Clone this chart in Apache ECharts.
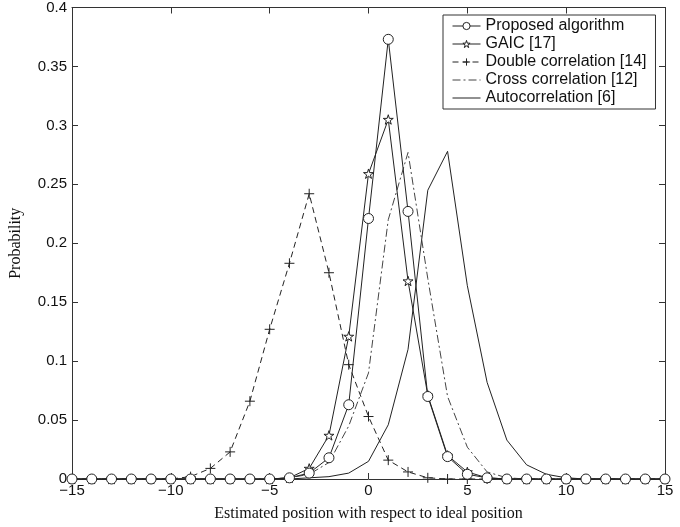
<!DOCTYPE html>
<html>
<head>
<meta charset="utf-8">
<script src="https://cdn.jsdelivr.net/npm/echarts@6/dist/echarts.min.js"></script>
<style>
  html, body { margin: 0; padding: 0; background: #fff; }
  #chart { width: 680px; height: 527px; }
</style>
</head>
<body>
<div id="chart"></div>
<script>
// estimated position (x) and probability of each method
const positions = [-15, -14, -13, -12, -11, -10, -9, -8, -7, -6, -5, -4, -3, -2, -1, 0,
  1, 2, 3, 4, 5, 6, 7, 8, 9, 10, 11, 12, 13, 14, 15];

const proposed = [0, 0, 0, 0, 0, 0, 0, 0, 0, 0, 0, 0.001, 0.005, 0.018, 0.063, 0.221,
  0.373, 0.227, 0.070, 0.019, 0.004, 0.001, 0, 0, 0, 0, 0, 0, 0, 0, 0];
const gaic = [0, 0, 0, 0, 0, 0, 0, 0, 0, 0, 0, 0.001, 0.009, 0.037, 0.121, 0.259,
  0.305, 0.168, 0.071, 0.020, 0.006, 0.001, 0, 0, 0, 0, 0, 0, 0, 0, 0];
const doubleCorr = [0, 0, 0, 0, 0, 0, 0.002, 0.009, 0.023, 0.066, 0.127, 0.183, 0.242, 0.175, 0.097, 0.053,
  0.016, 0.006, 0.001, 0, 0, 0, 0, 0, 0, 0, 0, 0, 0, 0, 0];
const crossCorr = [0, 0, 0, 0, 0, 0, 0, 0, 0, 0, 0, 0.001, 0.004, 0.014, 0.045, 0.090,
  0.220, 0.277, 0.170, 0.070, 0.027, 0.006, 0.001, 0, 0, 0, 0, 0, 0, 0, 0];
const autoCorr = [0, 0, 0, 0, 0, 0, 0, 0, 0, 0, 0, 0, 0.001, 0.002, 0.005, 0.015,
  0.046, 0.110, 0.245, 0.278, 0.164, 0.082, 0.033, 0.012, 0.004, 0.001, 0, 0, 0, 0, 0];

const seriesNames = ['Proposed algorithm', 'GAIC [17]', 'Double correlation [14]',
  'Cross correlation [12]', 'Autocorrelation [6]'];

const INK = '#222';
const CIRCLE = 'path://M50,0 A50,50 0 1 1 49.99,0 Z';
const STAR = 'path://M50,0 L61,35 L98,35 L68,57 L79,91 L50,70 L21,91 L32,57 L2,35 L39,35 Z';
const PLUS = 'path://M0,5 L10,5 M5,0 L5,10';

const hollow = { color: '#fff', borderColor: INK, borderWidth: 1 };
const noMark = { opacity: 0 };

function pairs(values) {
  return positions.map((x, i) => [x, values[i]]);
}

const chart = echarts.init(document.getElementById('chart'), null, { renderer: 'canvas' });

const xCommon = {
  type: 'value',
  min: -15,
  max: 15,
  interval: 5,
  splitLine: { show: false },
  axisLine: { onZero: false, lineStyle: { color: '#333', width: 1 } },
  axisTick: { inside: true, length: 6, lineStyle: { color: '#333' } }
};
const yCommon = {
  type: 'value',
  min: 0,
  max: 0.4,
  interval: 0.05,
  splitLine: { show: false },
  axisLine: { onZero: false, lineStyle: { color: '#333', width: 1 } },
  axisTick: { inside: true, length: 6, lineStyle: { color: '#333' } }
};

const option = {
  animation: false,
  backgroundColor: '#fff',
  grid: { left: 66, right: 15, top: 7, bottom: 46 },
  legend: {
    orient: 'vertical',
    left: 443,
    top: 15,
    data: [
      { name: seriesNames[0], itemStyle: hollow, lineStyle: { width: 1 } },
      { name: seriesNames[1], itemStyle: hollow, lineStyle: { width: 1 } },
      { name: seriesNames[2], itemStyle: hollow, lineStyle: { width: 1 } },
      { name: seriesNames[3], itemStyle: noMark, lineStyle: { width: 1 } },
      { name: seriesNames[4], itemStyle: noMark, lineStyle: { width: 1 } }
    ],
    itemWidth: 28,
    itemHeight: 9,
    itemGap: 2,
    padding: [3, 9, 3, 9],
    backgroundColor: '#fff',
    borderColor: '#333',
    borderWidth: 1,
    borderRadius: 0,
    textStyle: { fontFamily: 'Liberation Sans', fontSize: 16, color: '#111', lineHeight: 16 }
  },
  xAxis: [
    Object.assign({}, xCommon, {
      position: 'bottom',
      axisLabel: {
        color: '#111', fontFamily: 'Liberation Sans', fontSize: 15, margin: 4,
        formatter: v => String(v).replace('-', '\u2212')
      },
      name: 'Estimated position with respect to ideal position',
      nameLocation: 'middle',
      nameGap: 27,
      nameTextStyle: { fontFamily: 'Liberation Serif', fontSize: 16, color: '#111' }
    }),
    Object.assign({}, xCommon, { position: 'top', axisLabel: { show: false } })
  ],
  yAxis: [
    Object.assign({}, yCommon, {
      position: 'left',
      axisLabel: { color: '#111', fontFamily: 'Liberation Sans', fontSize: 15, margin: 5 },
      name: 'Probability',
      nameLocation: 'middle',
      nameGap: 48,
      nameTextStyle: { fontFamily: 'Liberation Serif', fontSize: 16, color: '#111' }
    }),
    Object.assign({}, yCommon, { position: 'right', axisLabel: { show: false } })
  ],
  series: [
    {
      name: seriesNames[4], type: 'line', data: pairs(autoCorr),
      showSymbol: false, symbol: 'none',
      lineStyle: { color: INK, width: 1 }, itemStyle: { color: INK }
    },
    {
      name: seriesNames[3], type: 'line', data: pairs(crossCorr),
      showSymbol: false, symbol: 'none',
      lineStyle: { color: '#444', width: 1, type: [8, 3, 2, 3] }, itemStyle: { color: '#444' }
    },
    {
      name: seriesNames[2], type: 'line', data: pairs(doubleCorr),
      symbol: PLUS, symbolSize: 10, symbolKeepAspect: true,
      lineStyle: { color: INK, width: 1, type: [6, 4] },
      itemStyle: hollow
    },
    {
      name: seriesNames[1], type: 'line', data: pairs(gaic),
      symbol: STAR, symbolSize: 10, symbolKeepAspect: true,
      lineStyle: { color: INK, width: 1 },
      itemStyle: hollow
    },
    {
      name: seriesNames[0], type: 'line', data: pairs(proposed),
      symbol: CIRCLE, symbolSize: 10, symbolKeepAspect: true,
      lineStyle: { color: INK, width: 1 },
      itemStyle: hollow
    }
  ]
};

chart.setOption(option);
</script>
</body>
</html>
